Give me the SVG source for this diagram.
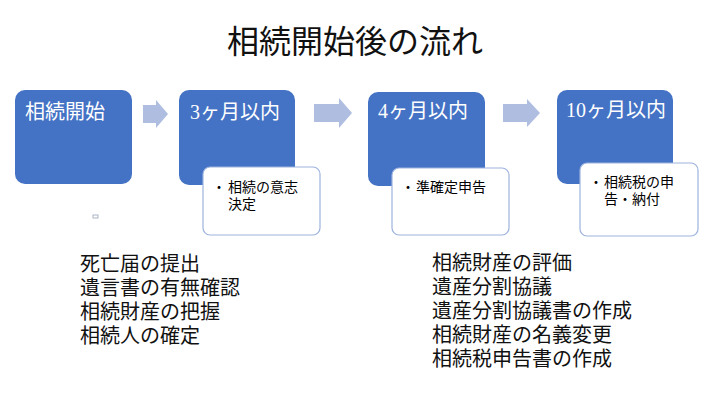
<svg xmlns="http://www.w3.org/2000/svg" width="711" height="400" viewBox="0 0 711 400">
<style>
.box{fill:#4472C4;}
.sub{fill:#ffffff;stroke:#9DB3DE;stroke-width:1.2;}
.arr{fill:#AEBDE0;}
.t{font-family:"Liberation Serif","Noto Sans CJK JP",serif;}
.bt{font-size:20px;fill:#ffffff;}
.st{font-size:14px;fill:#000000;}
.lt{font-size:20px;fill:#111111;}
</style>
<rect width="711" height="400" fill="#ffffff"/>
<text class="t" x="355" y="53" font-size="32" text-anchor="middle" fill="#111111">相続開始後の流れ</text>
<g id="connectors">
<polygon class="arr" points="143,105 156,105 156,100 168,114 156,128 156,123 143,123"/>
<polygon class="arr" points="314,104 339,104 339,98 352,113 339,128 339,122 314,122"/>
<polygon class="arr" points="503,104 527,104 527,99 540,113 527,127 527,122 503,122"/>
</g>
<g id="node1">
<rect class="box" x="15" y="90" width="117" height="94" rx="10"/>
<text class="t bt" x="25" y="119">相続開始</text>
</g>
<g id="node2">
<rect class="box" x="179" y="90" width="116" height="95" rx="10"/>
<text class="t bt" x="190" y="119">3ヶ月以内</text>
<rect class="sub" x="203" y="167" width="117" height="68" rx="7"/>
<text class="t st" x="212" y="192">・</text>
<text class="t st" x="228" y="192">相続の意志</text>
<text class="t st" x="228" y="209">決定</text>
</g>
<g id="node3">
<rect class="box" x="368" y="92" width="117" height="94" rx="10"/>
<text class="t bt" x="378" y="118">4ヶ月以内</text>
<rect class="sub" x="392" y="168" width="117" height="67" rx="7"/>
<text class="t st" x="401" y="192">・</text>
<text class="t st" x="416" y="192">準確定申告</text>
</g>
<g id="node4">
<rect class="box" x="557" y="90" width="116" height="94" rx="10"/>
<text class="t bt" x="566" y="117">10ヶ月以内</text>
<rect class="sub" x="580" y="163" width="118" height="73" rx="7"/>
<text class="t st" x="589" y="187">・</text>
<text class="t st" x="604" y="187">相続税の申</text>
<text class="t st" x="604" y="204">告・納付</text>
</g>
<rect x="93" y="215" width="5" height="3" fill="none" stroke="#9aa4b8" stroke-width="0.8"/>
<g id="list-left">
<text class="t lt" x="80" y="271">死亡届の提出</text>
<text class="t lt" x="80" y="295">遺言書の有無確認</text>
<text class="t lt" x="80" y="319">相続財産の把握</text>
<text class="t lt" x="80" y="343">相続人の確定</text>
</g>
<g id="list-right">
<text class="t lt" x="432" y="270">相続財産の評価</text>
<text class="t lt" x="432" y="294">遺産分割協議</text>
<text class="t lt" x="432" y="318">遺産分割協議書の作成</text>
<text class="t lt" x="432" y="342">相続財産の名義変更</text>
<text class="t lt" x="432" y="366">相続税申告書の作成</text>
</g>
</svg>
